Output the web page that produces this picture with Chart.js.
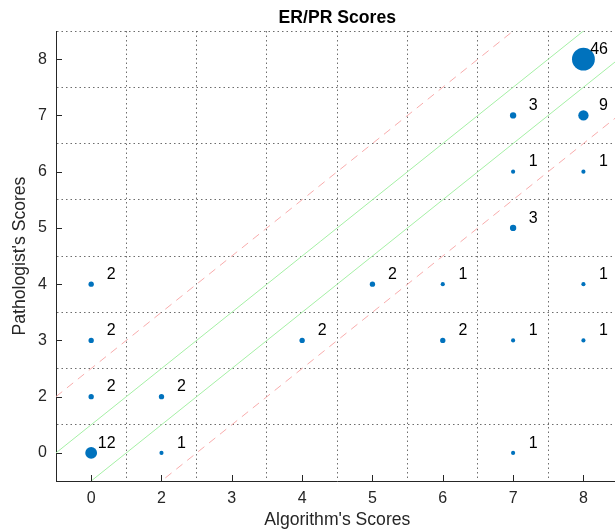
<!DOCTYPE html>
<html>
<head>
<meta charset="utf-8">
<title>ER/PR Scores</title>
<script src="https://cdn.jsdelivr.net/npm/chart.js@4.4.1/dist/chart.umd.min.js"></script>
<style>
  html, body { margin: 0; padding: 0; background: #fff; overflow: hidden; }
  #wrap { width: 615px; height: 531px; overflow: hidden; }
  canvas { display: block; }
</style>
</head>
<body>
<div id="wrap"><canvas id="chart" width="630" height="531"></canvas></div>
<script>
// score categories shown on both axes (there is no "1")
const scoreLabels = ['0', '2', '3', '4', '5', '6', '7', '8'];

// one entry per (algorithm, pathologist) pair
const algScores  = [0, 0, 0, 0, 2, 2, 4, 5, 6, 6, 7, 7, 7, 7, 7, 8, 8, 8, 8, 8];
const pathScores = [0, 2, 3, 4, 0, 2, 3, 4, 4, 3, 7, 6, 5, 3, 0, 8, 7, 6, 4, 3];
const counts     = [12, 2, 2, 2, 1, 2, 2, 2, 1, 2, 3, 1, 3, 1, 1, 46, 9, 1, 1, 1];

// diagonal guide lines, offset from y = x in category steps
const agreeOffsets = [0.5, -0.5];
const toleranceOffsets = [1.5, -1.5];

const FONT = "'Liberation Sans', Arial, Helvetica, sans-serif";
const axisColor = '#262626';
const gridColor = 'rgba(60,60,60,0.75)';
const tickLen = 6;

const pos = v => scoreLabels.indexOf(String(v));
const isWhole = v => Math.abs(v - Math.round(v)) < 1e-6;
const lineEnds = [-0.5, scoreLabels.length + 0.5];

function guideLine(offset, color, dash) {
  return {
    type: 'line',
    data: lineEnds.map(x => ({ x: x, y: x + offset })),
    borderColor: color,
    borderWidth: 1,
    borderDash: dash,
    pointRadius: 0,
    fill: false,
    order: 2
  };
}

function scoreAxis(titleText, titlePadding, fitFn) {
  return {
    type: 'linear',
    min: -0.5,
    max: scoreLabels.length - 0.5,
    ticks: {
      stepSize: 0.5,
      autoSkip: false,
      maxRotation: 0,
      color: axisColor,
      font: { family: FONT, size: 16 },
      padding: 0,
      callback: v => isWhole(v) ? scoreLabels[Math.round(v)] : ''
    },
    grid: {
      drawTicks: false,
      lineWidth: 1,
      color: c => (isWhole(c.tick.value) || c.tick.value < 0) ? 'rgba(0,0,0,0)' : gridColor
    },
    border: { display: true, color: axisColor, width: 1, dash: [1.5, 3] },
    title: {
      display: true,
      text: titleText,
      color: axisColor,
      font: { family: FONT, size: 17.6 },
      padding: titlePadding
    },
    afterFit: fitFn
  };
}

// MATLAB style inward tick marks on the two visible axes
const inwardTicks = {
  id: 'inwardTicks',
  afterDraw(chart) {
    const { ctx, chartArea, scales } = chart;
    ctx.save();
    ctx.strokeStyle = axisColor;
    ctx.lineWidth = 1;
    ctx.beginPath();
    scoreLabels.forEach((_, i) => {
      const px = Math.round(scales.x.getPixelForValue(i)) + 0.5;
      ctx.moveTo(px, chartArea.bottom);
      ctx.lineTo(px, chartArea.bottom - tickLen);
      const py = Math.round(scales.y.getPixelForValue(i)) + 0.5;
      ctx.moveTo(chartArea.left, py);
      ctx.lineTo(chartArea.left + tickLen, py);
    });
    ctx.stroke();
    ctx.restore();
  }
};

// count next to each bubble
const countLabels = {
  id: 'countLabels',
  afterDatasetsDraw(chart) {
    const { ctx } = chart;
    const meta = chart.getDatasetMeta(0);
    ctx.save();
    ctx.font = '16px ' + FONT;
    ctx.fillStyle = '#000';
    ctx.textAlign = 'right';
    ctx.textBaseline = 'middle';
    meta.data.forEach((pt, i) => {
      ctx.fillText(String(counts[i]), pt.x + 24.5, pt.y - 9.7);
    });
    ctx.restore();
  }
};

const chart = new Chart(document.getElementById('chart'), {
  type: 'scatter',
  data: {
    datasets: [
      {
        label: 'Cases',
        data: algScores.map((a, i) => ({ x: pos(a), y: pos(pathScores[i]) })),
        backgroundColor: '#0072BD',
        borderWidth: 0,
        pointRadius: c => Math.sqrt(2.8 * counts[c.dataIndex] + 1.5),
        pointHoverRadius: c => Math.sqrt(2.8 * counts[c.dataIndex] + 1.5),
        order: 0
      },
      ...agreeOffsets.map(o => guideLine(o, 'rgb(165,240,165)', [])),
      ...toleranceOffsets.map(o => guideLine(o, 'rgb(248,172,172)', [8, 6]))
    ]
  },
  options: {
    responsive: false,
    animation: false,
    devicePixelRatio: 1,
    layout: { padding: { left: 0, right: 8, top: 0, bottom: 0 } },
    plugins: {
      legend: { display: false },
      tooltip: { enabled: false },
      title: {
        display: true,
        fullSize: false,
        text: 'ER/PR Scores',
        color: '#000',
        font: { family: FONT, size: 17.6, weight: 'bold' },
        padding: { top: 7.4, bottom: 2.5 }
      }
    },
    scales: {
      x: scoreAxis("Algorithm's Scores", { top: 0, bottom: 0 }, s => {
        s.height = 50;
        s.paddingLeft = 0; s.paddingRight = 0;
        s.options.ticks.padding = 8;
      }),
      y: scoreAxis("Pathologist's Scores", { top: 9.4, bottom: 0 }, s => {
        s.width = 56;
        s.paddingTop = 0; s.paddingBottom = 0;
        s.options.ticks.padding = 9;
      })
    }
  },
  plugins: [inwardTicks, countLabels]
});
</script>
</body>
</html>
